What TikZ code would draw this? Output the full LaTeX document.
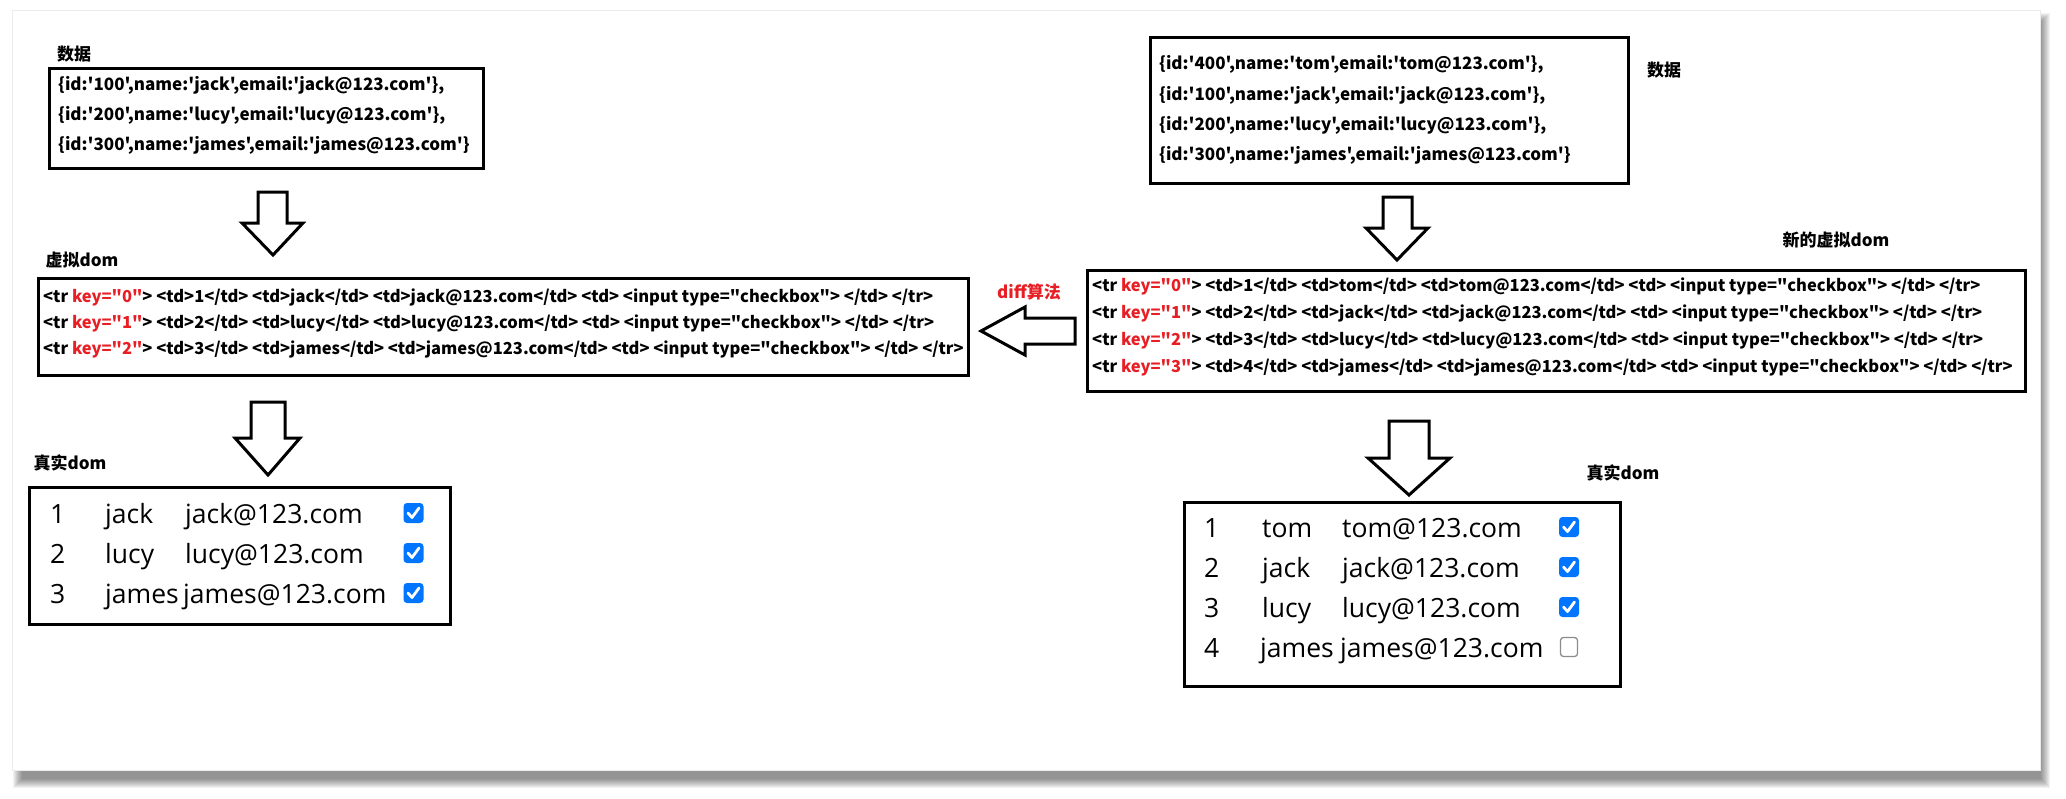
\documentclass[tikz,border=0pt]{standalone}
\usepackage{fontspec}
\newfontfamily\cjk{Noto Sans CJK SC}[Ligatures=TeXOff]
\newfontfamily\tblf{Open Sans}
\definecolor{keyred}{RGB}{232,30,37}
\definecolor{cbblue}{RGB}{0,117,255}
\newcommand\vrow[4]{<tr {\color{keyred}key="#1"}> <td>#2</td> <td>#3</td> <td>#4</td> <td> <input type="checkbox"> </td> </tr>}
\newcommand\drow[4]{\{id:'#1',name:'#2',email:'#3'\}#4}
\tikzset{
  box/.style={draw=black, line width=3pt, inner sep=0pt, fill=white},
  codebig/.style={inner sep=0pt, anchor=base west, font=\cjk\bfseries\fontsize{17}{20}\selectfont},
  codesmall/.style={inner sep=0pt, anchor=base west, font=\cjk\bfseries\fontsize{16.5}{19}\selectfont},
  lbl/.style={inner sep=0pt, font=\cjk\bfseries\fontsize{17}{20}\selectfont},
  cell/.style={inner sep=0pt, anchor=base west, font=\tblf\fontsize{26.5}{30}\selectfont},
  blockarrow/.style={draw=black, line width=3pt, fill=white, line join=miter},
  chkon/.pic={\fill[cbblue, rounded corners=3.5pt] (-10,-10) rectangle (10,10);
    \draw[white, line width=2.8pt, line cap=round, line join=round] (-5.5,0) -- (-1.5,4.5) -- (5.5,-5);},
  chkoff/.pic={\draw[black!45, line width=1.3pt, rounded corners=3pt, fill=white] (-8.5,-9.5) rectangle (8.5,9.5);}
}
\begin{document}
\begin{tikzpicture}[x=1pt,y=-1pt]
\useasboundingbox (0,0) rectangle (2066,798);
\fill[white] (0,0) rectangle (2066,798);
% page shadow
\foreach \k in {0,...,9}{\fill[black,opacity=0.05] (13+\k,13+\k) rectangle (2050-\k,788-\k);}
\fill[white, draw=black!8, line width=0.8pt] (12,10) rectangle (2040,770);

% ---------- left column ----------
\node[lbl] (lblData1) at (74,54) {数据};
\node[box, minimum width=434pt, minimum height=100pt] (data1) at (266,118) {};
\node[codebig] (d1a) at (58,90) {\drow{100}{jack}{jack@123.com}{,}};
\node[codebig] (d1b) at (58,120) {\drow{200}{lucy}{lucy@123.com}{,}};
\node[codebig] (d1c) at (58,150) {\drow{300}{james}{james@123.com}{}};

\draw[blockarrow] (258,192) -- (287,192) -- (287,223) -- (303,223) -- (273,255) -- (242,223) -- (258,223) -- cycle;

\node[lbl] (lblV1) at (82,260) {虚拟dom};
\node[box, minimum width=930pt, minimum height=97pt] (vdom1) at (503,326.5) {};
\node[codesmall] (v1a) at (43,302) {\vrow{0}{1}{jack}{jack@123.com}};
\node[codesmall] (v1b) at (43,328) {\vrow{1}{2}{lucy}{lucy@123.com}};
\node[codesmall] (v1c) at (43,354) {\vrow{2}{3}{james}{james@123.com}};

\draw[blockarrow] (251,402) -- (285,402) -- (285,438) -- (300,438) -- (268,475) -- (235,438) -- (251,438) -- cycle;

\node[lbl] (lblR1) at (70,463) {真实dom};
\node[box, minimum width=421pt, minimum height=137pt] (real1) at (239.5,555.5) {};
\node[cell] (r1n1) at (50,523) {1};
\node[cell] (r1a1) at (105,523) {jack};
\node[cell] (r1e1) at (185,523) {jack@123.com};
\pic at (413.5,513) {chkon};
\node[cell] (r1n2) at (50,563) {2};
\node[cell] (r1a2) at (105,563) {lucy};
\node[cell] (r1e2) at (185,563) {lucy@123.com};
\pic at (413.5,553) {chkon};
\node[cell] (r1n3) at (50,603) {3};
\node[cell] (r1a3) at (105,603) {james};
\node[cell] (r1e3) at (183,603) {james@123.com};
\pic at (413.5,593) {chkon};

% ---------- diff arrow ----------
\node[lbl, text=keyred] (lblDiff) at (1029,292) {diff算法};
\draw[blockarrow] (1075,318) -- (1075,344) -- (1025,344) -- (1025,355) -- (981,331) -- (1025,307) -- (1025,318) -- cycle;

% ---------- right column ----------
\node[box, minimum width=478pt, minimum height=146pt] (data2) at (1389,110) {};
\node[codebig] (d2a) at (1159,69) {\drow{400}{tom}{tom@123.com}{,}};
\node[codebig] (d2b) at (1159,100) {\drow{100}{jack}{jack@123.com}{,}};
\node[codebig] (d2c) at (1159,130) {\drow{200}{lucy}{lucy@123.com}{,}};
\node[codebig] (d2d) at (1159,160) {\drow{300}{james}{james@123.com}{}};
\node[lbl] (lblData2) at (1664,70) {数据};

\draw[blockarrow] (1383,197) -- (1412,197) -- (1412,228) -- (1428,228) -- (1397,260) -- (1366,228) -- (1383,228) -- cycle;

\node[lbl] (lblV2) at (1836,240) {新的虚拟dom};
\node[box, minimum width=938pt, minimum height=121pt] (vdom2) at (1556,330.5) {};
\node[codesmall] (v2a) at (1092,291) {\vrow{0}{1}{tom}{tom@123.com}};
\node[codesmall] (v2b) at (1092,318) {\vrow{1}{2}{jack}{jack@123.com}};
\node[codesmall] (v2c) at (1092,345) {\vrow{2}{3}{lucy}{lucy@123.com}};
\node[codesmall] (v2d) at (1092,372) {\vrow{3}{4}{james}{james@123.com}};

\draw[blockarrow] (1389,421) -- (1429,421) -- (1429,458) -- (1450,458) -- (1409,495) -- (1368,458) -- (1389,458) -- cycle;

\node[lbl] (lblR2) at (1623,473) {真实dom};
\node[box, minimum width=436pt, minimum height=184pt] (real2) at (1402,594) {};
\node[cell] (r2n1) at (1204,537) {1};
\node[cell] (r2a1) at (1262,537) {tom};
\node[cell] (r2e1) at (1342,537) {tom@123.com};
\pic at (1569,527) {chkon};
\node[cell] (r2n2) at (1204,577) {2};
\node[cell] (r2a2) at (1262,577) {jack};
\node[cell] (r2e2) at (1342,577) {jack@123.com};
\pic at (1569,567) {chkon};
\node[cell] (r2n3) at (1204,617) {3};
\node[cell] (r2a3) at (1262,617) {lucy};
\node[cell] (r2e3) at (1342,617) {lucy@123.com};
\pic at (1569,607) {chkon};
\node[cell] (r2n4) at (1204,657) {4};
\node[cell] (r2a4) at (1260,657) {james};
\node[cell] (r2e4) at (1340,657) {james@123.com};
\pic at (1569,647) {chkoff};
\end{tikzpicture}
\end{document}
